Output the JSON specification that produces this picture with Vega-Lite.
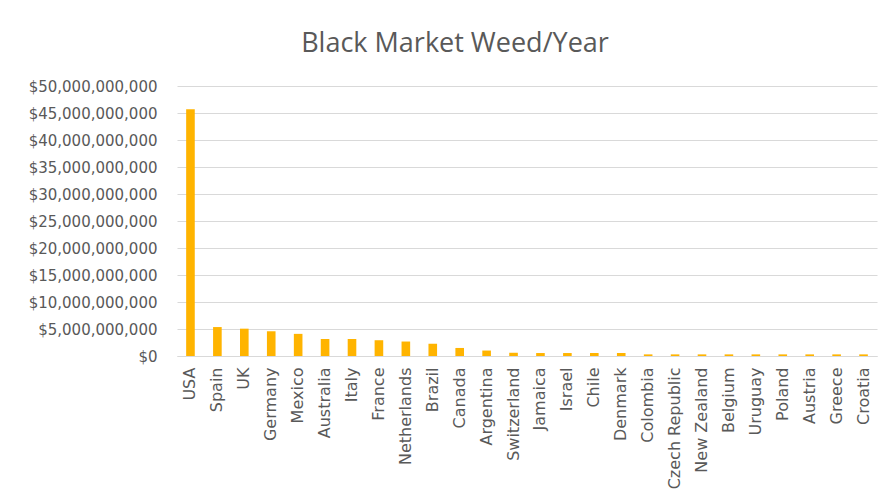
{
  "$schema": "https://vega.github.io/schema/vega-lite/v6.json",
  "autosize": "none",
  "width": 700,
  "height": 270,
  "padding": {"left": 177, "top": 86, "right": 19, "bottom": 147},
  "background": "white",
  "title": {
    "text": "Black Market Weed/Year",
    "font": "Open Sans",
    "fontSize": 27,
    "fontWeight": "normal",
    "color": "#595959",
    "anchor": "middle",
    "frame": "group",
    "dx": -72,
    "offset": 21
  },
  "data": {
    "values": [
      {"country": "USA", "value": 45700000000},
      {"country": "Spain", "value": 5360000000},
      {"country": "UK", "value": 5060000000},
      {"country": "Germany", "value": 4580000000},
      {"country": "Mexico", "value": 4100000000},
      {"country": "Australia", "value": 3150000000},
      {"country": "Italy", "value": 3150000000},
      {"country": "France", "value": 2920000000},
      {"country": "Netherlands", "value": 2680000000},
      {"country": "Brazil", "value": 2260000000},
      {"country": "Canada", "value": 1490000000},
      {"country": "Argentina", "value": 1010000000},
      {"country": "Switzerland", "value": 600000000},
      {"country": "Jamaica", "value": 550000000},
      {"country": "Israel", "value": 550000000},
      {"country": "Chile", "value": 560000000},
      {"country": "Denmark", "value": 560000000},
      {"country": "Colombia", "value": 300000000},
      {"country": "Czech Republic", "value": 300000000},
      {"country": "New Zealand", "value": 300000000},
      {"country": "Belgium", "value": 300000000},
      {"country": "Uruguay", "value": 300000000},
      {"country": "Poland", "value": 300000000},
      {"country": "Austria", "value": 300000000},
      {"country": "Greece", "value": 300000000},
      {"country": "Croatia", "value": 300000000}
    ]
  },
  "mark": {"type": "bar", "color": "#FFB400"},
  "encoding": {
    "x": {
      "field": "country",
      "type": "nominal",
      "sort": null,
      "title": null,
      "scale": {"paddingInner": 0.68, "paddingOuter": 0.34},
      "axis": {
        "labelAngle": -90,
        "labelAlign": "right",
        "labelBaseline": "middle",
        "labelPadding": 11,
        "ticks": false,
        "domainColor": "#D9D9D9",
        "labelFont": "DejaVu Sans",
        "labelFontSize": 16,
        "labelColor": "#595959",
        "labelOverlap": false
      }
    },
    "y": {
      "field": "value",
      "type": "quantitative",
      "title": null,
      "scale": {"domain": [0, 50000000000]},
      "axis": {
        "values": [0, 5000000000, 10000000000, 15000000000, 20000000000, 25000000000, 30000000000, 35000000000, 40000000000, 45000000000, 50000000000],
        "format": "$,.0f",
        "domain": false,
        "ticks": false,
        "gridColor": "#D9D9D9",
        "labelPadding": 20,
        "labelFont": "DejaVu Sans",
        "labelFontSize": 15,
        "labelColor": "#595959"
      }
    }
  },
  "config": {"view": {"stroke": null}}
}
